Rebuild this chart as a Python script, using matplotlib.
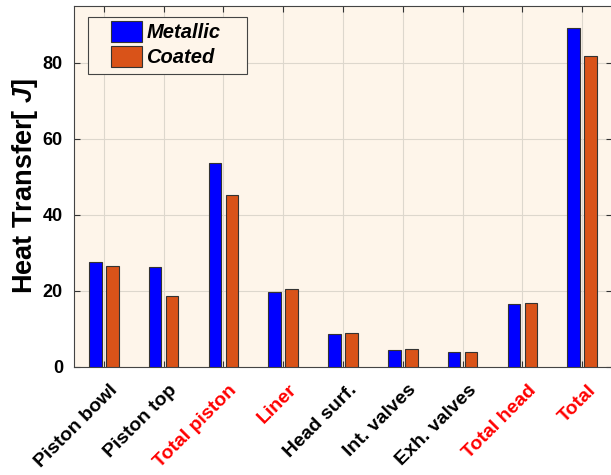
import matplotlib
matplotlib.use("Agg")
import matplotlib.pyplot as plt
import numpy as np
from matplotlib.transforms import ScaledTranslation
from matplotlib.patches import Rectangle

categories = ["Piston bowl", "Piston top", "Total piston", "Liner", "Head surf.",
              "Int. valves", "Exh. valves", "Total head", "Total"]
label_colors = ["black", "black", "red", "red", "black", "black", "black", "red", "red"]
metallic = [27.5, 26.3, 53.7, 19.8, 8.7, 4.4, 3.9, 16.4, 89.3]
coated = [26.6, 18.7, 45.2, 20.4, 8.9, 4.6, 4.0, 16.8, 81.7]
yticks = [0, 20, 40, 60, 80]

plt.rcParams['font.family'] = ['Liberation Sans', 'DejaVu Sans']
plt.rcParams['mathtext.fontset'] = 'custom'
plt.rcParams['mathtext.it'] = 'Liberation Sans:bold:italic'
plt.rcParams['mathtext.rm'] = 'Liberation Sans:bold'
plt.rcParams['mathtext.bf'] = 'Liberation Sans:bold'

fig = plt.figure(figsize=(6.11, 4.75), dpi=100)
fig.patch.set_facecolor('white')
ax = fig.add_axes([74/611, 1-366.7/475, (612-74)/611, (366.7-6)/475])
ax.set_facecolor('#FEF5EA')

x = np.arange(1, len(categories) + 1)
w = 0.21
off = 0.143
ax.bar(x - off, metallic, w, color='#0000FF', edgecolor='#333333', linewidth=0.8,
       label='Metallic', zorder=3)
ax.bar(x + off, coated, w, color='#D95319', edgecolor='#333333', linewidth=0.8,
       label='Coated', zorder=3)

ax.set_xlim(0.5, 9.5)
ax.set_ylim(0, 95)
ax.set_yticks(yticks)
ax.set_xticks(x)
ax.set_xticklabels([])
lab_tr = ax.get_xaxis_transform() + ScaledTranslation(11/100, -20.8/100, fig.dpi_scale_trans)
for xi, name, c in zip(x, categories, label_colors):
    ax.text(xi, 0, name, transform=lab_tr, rotation=45, ha='right', va='center',
            rotation_mode='anchor', fontsize=14, fontweight='bold', color=c,
            clip_on=False)
for lab in ax.get_yticklabels():
    lab.set_fontweight('bold')
    lab.set_fontsize(13)

ax.tick_params(direction='in', length=4, width=0.8, color='#333333',
               top=True, right=True)
ax.tick_params(axis='y', pad=8)
ax.grid(True, color='#DDD7CD', linewidth=0.8, zorder=0)
ax.set_axisbelow(True)
for s in ax.spines.values():
    s.set_color('#444444')
    s.set_linewidth(0.8)

fig.text(25/611, 1-186/475, r'Heat Transfer[ $J$]', fontsize=19.5, fontweight='bold',
         rotation=90, ha='center', va='center')

# legend frame
frame = Rectangle(((88-74)/538, (366.7-74)/360.7), (247-88)/538, (74-17)/360.7,
                  transform=ax.transAxes, facecolor='#FEF5EA', edgecolor='#444444',
                  linewidth=0.8, zorder=4)
ax.add_patch(frame)
leg = ax.legend(loc='upper left', bbox_to_anchor=((111-74)/538, (366.7-21)/360.7),
                prop={'size': 14.5, 'weight': 'bold', 'style': 'italic'},
                frameon=False, handlelength=1.55, handleheight=1.2, handletextpad=0.2,
                labelspacing=0.2, borderpad=0, borderaxespad=0)
leg.set_zorder(5)

fig.savefig('out.png', dpi=100)
